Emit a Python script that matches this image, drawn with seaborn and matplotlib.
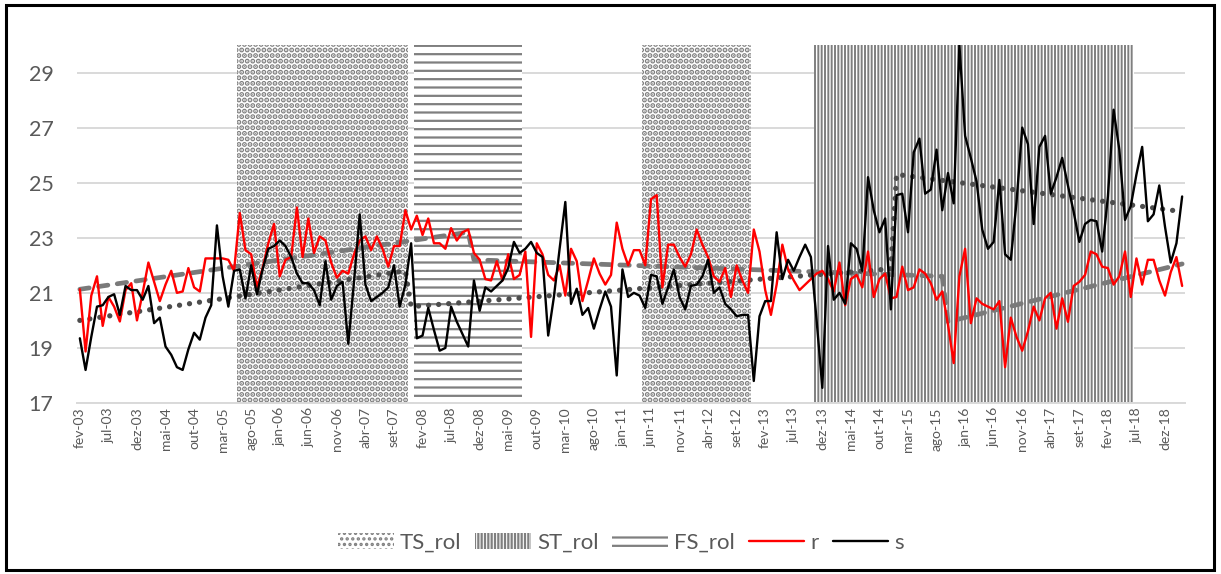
import numpy as np
import pandas as pd
import matplotlib
matplotlib.use("Agg")
import matplotlib.pyplot as plt
import seaborn as sns
from matplotlib.patches import Rectangle

# ---------------- data ----------------
start_month = "2003-02"
end_month = "2019-03"
month_abbr = ["jan", "fev", "mar", "abr", "mai", "jun",
              "jul", "ago", "set", "out", "nov", "dez"]

r_values = [
    21.13, 18.87, 20.9, 21.6, 19.8, 20.85, 20.5, 19.96, 21.1, 21.35,
    20.0, 21.0, 22.1, 21.4, 20.7, 21.3, 21.8, 21.0, 21.05, 21.9,
    21.2, 21.05, 22.25, 22.25, 22.25, 22.25, 22.2, 21.8, 23.9, 22.55,
    22.4, 21.2, 21.9, 22.8, 23.5, 21.6, 22.2, 22.3, 24.1, 22.3,
    23.7, 22.45, 23.05, 22.9, 22.1, 21.55, 21.8, 21.7, 22.4, 22.9,
    23.05, 22.55, 23.05, 22.6, 21.95, 22.7, 22.7, 24.0, 23.3, 23.8,
    23.1, 23.7, 22.8, 22.8, 22.6, 23.35, 22.9, 23.2, 23.3, 22.45,
    22.2, 21.5, 21.45, 22.15, 21.45, 22.4, 21.5, 21.65, 22.5, 19.4,
    22.8, 22.4, 21.65, 21.45, 22.0, 20.9, 22.6, 22.15, 20.7, 21.45,
    22.25, 21.7, 21.3, 21.65, 23.55, 22.6, 22.0, 22.55, 22.55, 22.0,
    24.4, 24.55, 21.2, 22.75, 22.75, 22.3, 21.95, 22.4, 23.3, 22.75,
    22.3, 21.6, 21.4, 21.9, 20.85, 22.0, 21.45, 21.0, 23.3, 22.5,
    21.1, 20.2, 21.3, 22.75, 21.85, 21.45, 21.1, 21.3, 21.5, 21.7,
    21.8, 21.5, 21.05, 22.1, 20.55, 21.5, 21.65, 21.2, 22.5, 20.85,
    21.5, 21.7, 20.8, 20.85, 21.95, 21.1, 21.2, 21.85, 21.7, 21.35,
    20.75, 21.05, 19.85, 18.45, 21.6, 22.6, 19.9, 20.8, 20.6, 20.5,
    20.4, 20.7, 18.3, 20.1, 19.4, 18.9, 19.6, 20.5, 20.0, 20.8,
    21.0, 19.7, 20.8, 19.95, 21.25, 21.4, 21.65, 22.5, 22.4, 21.95,
    21.9, 21.3, 21.6, 22.5, 20.85, 22.25, 21.3, 22.2, 22.2, 21.45,
    20.9, 21.75, 22.3, 21.25,
]

s_values = [
    19.35, 18.2, 19.4, 20.5, 20.55, 20.85, 20.95, 20.2, 21.25, 21.1,
    21.1, 20.75, 21.25, 19.9, 20.1, 19.05, 18.75, 18.3, 18.2, 18.95,
    19.55, 19.3, 20.1, 20.55, 23.45, 21.6, 20.5, 21.8, 21.85, 20.8,
    22.0, 20.95, 21.85, 22.6, 22.7, 22.9, 22.7, 22.3, 21.7, 21.35,
    21.35, 21.1, 20.55, 22.15, 20.75, 21.25, 21.4, 19.15, 21.4, 23.85,
    21.3, 20.7, 20.85, 21.0, 21.2, 22.0, 20.5, 21.3, 22.8, 19.35,
    19.45, 20.45, 19.65, 18.9, 19.0, 20.5, 19.95, 19.5, 19.05, 21.45,
    20.35, 21.2, 21.05, 21.25, 21.45, 21.9, 22.85, 22.45, 22.6, 22.85,
    22.45, 22.3, 19.45, 20.85, 22.6, 24.3, 20.6, 21.15, 20.2, 20.45,
    19.7, 20.4, 21.05, 20.5, 18.0, 21.85, 20.85, 21.0, 20.9, 20.45,
    21.65, 21.6, 20.6, 21.2, 21.85, 20.85, 20.4, 21.25, 21.3, 21.6,
    22.2, 21.0, 21.2, 20.6, 20.4, 20.15, 20.2, 20.2, 17.8, 20.15,
    20.7, 20.7, 23.2, 21.5, 22.2, 21.8, 22.3, 22.75, 22.3, 20.0,
    17.55, 22.7, 20.75, 21.0, 20.6, 22.8, 22.6, 21.8, 25.2, 24.0,
    23.2, 23.7, 20.4, 24.55, 24.6, 23.2, 26.1, 26.6, 24.6, 24.75,
    26.2, 24.0, 25.35, 24.25, 30.0, 26.7, 25.9, 25.05, 23.3, 22.6,
    22.85, 25.1, 22.4, 22.2, 24.3, 27.0, 26.4, 23.5, 26.3, 26.7,
    24.6, 25.2, 25.9, 24.9, 23.95, 22.85, 23.5, 23.65, 23.6, 22.5,
    24.5, 27.65, 26.2, 23.65, 24.15, 25.3, 26.3, 23.6, 23.85, 24.9,
    23.4, 22.1, 22.8, 24.5,
]

# regime periods (shaded columns)
ts_periods = [("2005-06", "2007-11"), ("2011-05", "2012-11")]
st_periods = [("2013-11", "2018-06")]
fs_periods = [("2008-01", "2009-07")]

# trend lines (knots: month, value)
trend_r_knots = [("2003-02", 21.13), ("2008-10", 23.2), ("2008-11", 22.2),
                 ("2015-09", 21.6), ("2015-10", 19.95), ("2019-03", 22.05)]
trend_s_knots = [("2003-02", 20.0), ("2007-11", 21.8), ("2007-12", 20.5),
                 ("2014-12", 21.87), ("2015-01", 25.3), ("2019-03", 23.95)]

y_ticks = [17, 19, 21, 23, 25, 27, 29]
y_min, y_max = 17, 30
label_step = 5

# ---------------- derived ----------------
months = pd.period_range(start_month, end_month, freq="M")
n = len(months)
idx = np.arange(n)
pos = {str(p): i for i, p in enumerate(months)}

df = pd.DataFrame({"m": idx, "r": r_values, "s": s_values})


def period_indices(periods):
    out = []
    for a, b in periods:
        out.extend(range(pos[a], pos[b] + 1))
    return np.array(out)


def knots_xy(knots):
    return [pos[k] for k, _ in knots], [v for _, v in knots]


tick_pos = idx[::label_step]
tick_lab = [f"{month_abbr[months[i].month - 1]}-{months[i].year % 100:02d}" for i in tick_pos]

# ---------------- style ----------------
sns.set_theme(style="white")
plt.rcParams["font.family"] = ["Lato", "DejaVu Sans"]
plt.rcParams["hatch.color"] = "#7f7f7f"

W, H = 1221, 574
fig = plt.figure(figsize=(W / 100, H / 100), dpi=100)
fig.patch.set_facecolor("white")
ax = fig.add_axes([77 / W, 1 - 403 / H, (1185 - 77) / W, (403 - 45) / H])

txt = "#595959"
hatch_col = "#7f7f7f"


def regime_bars(periods, hatch, label, hlw):
    plt.rcParams["hatch.linewidth"] = hlw
    ii = period_indices(periods)
    bars = ax.bar(ii, np.full(len(ii), y_max - y_min), bottom=y_min, width=1.0,
                  facecolor="white", edgecolor=hatch_col, linewidth=0,
                  hatch=hatch, label=label, zorder=1, antialiased=False)
    for p in bars:
        if hasattr(p, "set_hatch_linewidth"):
            p.set_hatch_linewidth(hlw)
    return bars


ts_bars = regime_bars(ts_periods, "...", "TS_rol", 2.6)
st_bars = regime_bars(st_periods, "|||||", "ST_rol", 1.4)
fs_bars = regime_bars(fs_periods, "--", "FS_rol", 1.6)

# trend lines
tx, tv = knots_xy(trend_r_knots)
ax.plot(tx, tv, color="#7a7a7a", lw=3.4, linestyle=(0, (2.0, 2.0)),
        dash_capstyle="round", zorder=3)
tx, tv = knots_xy(trend_s_knots)
ax.plot(tx, tv, color="#4d4d4d", lw=3.8, linestyle=(0, (0.01, 1.9)),
        dash_capstyle="round", zorder=3)

# series
k0 = len(ax.lines)
sns.lineplot(data=df, x="m", y="r", color="#ff0000", linewidth=1.7, ax=ax,
             zorder=4, legend=False)
r_line = ax.lines[k0]
k1 = len(ax.lines)
sns.lineplot(data=df, x="m", y="s", color="black", linewidth=1.7, ax=ax,
             zorder=5, legend=False)
s_line = ax.lines[k1]
if ax.get_legend() is not None:
    ax.get_legend().remove()

# axes
ax.set_xlim(-0.5, n - 0.5)
ax.set_ylim(y_min, y_max)
ax.set_yticks(y_ticks)
ax.set_xticks(tick_pos)
ax.set_xticklabels(tick_lab, rotation=90, fontsize=10, color=txt)
ax.tick_params(axis="x", length=0, pad=3)
ax.tick_params(axis="y", length=0, pad=17, labelsize=15.5, labelcolor=txt)
ax.set_xlabel("")
ax.set_ylabel("")
ax.yaxis.grid(True, color="#d9d9d9", lw=1.4)
ax.xaxis.grid(False)
ax.set_axisbelow(True)
for sp in ["left", "right", "top"]:
    ax.spines[sp].set_visible(False)
ax.spines["bottom"].set_color("#d9d9d9")
ax.spines["bottom"].set_linewidth(1.4)
ax.spines["bottom"].set_zorder(6)

# legend
leg = fig.legend([ts_bars, st_bars, fs_bars, r_line, s_line],
                 ["TS_rol", "ST_rol", "FS_rol", "r", "s"],
                 loc="center", bbox_to_anchor=(621 / W, 1 - 543 / H), ncol=5,
                 frameon=False, fontsize=16, handlelength=2.5, handleheight=0.75,
                 handletextpad=0.27, columnspacing=0.63, labelcolor=txt)

# outer frame
fig.add_artist(Rectangle((5.5 / W, 4.5 / H), (1214 - 5.5) / W, (569 - 4.5) / H,
                         transform=fig.transFigure, fill=False,
                         edgecolor="black", lw=2.2))

fig.savefig("out.png", dpi=100, facecolor="white")
